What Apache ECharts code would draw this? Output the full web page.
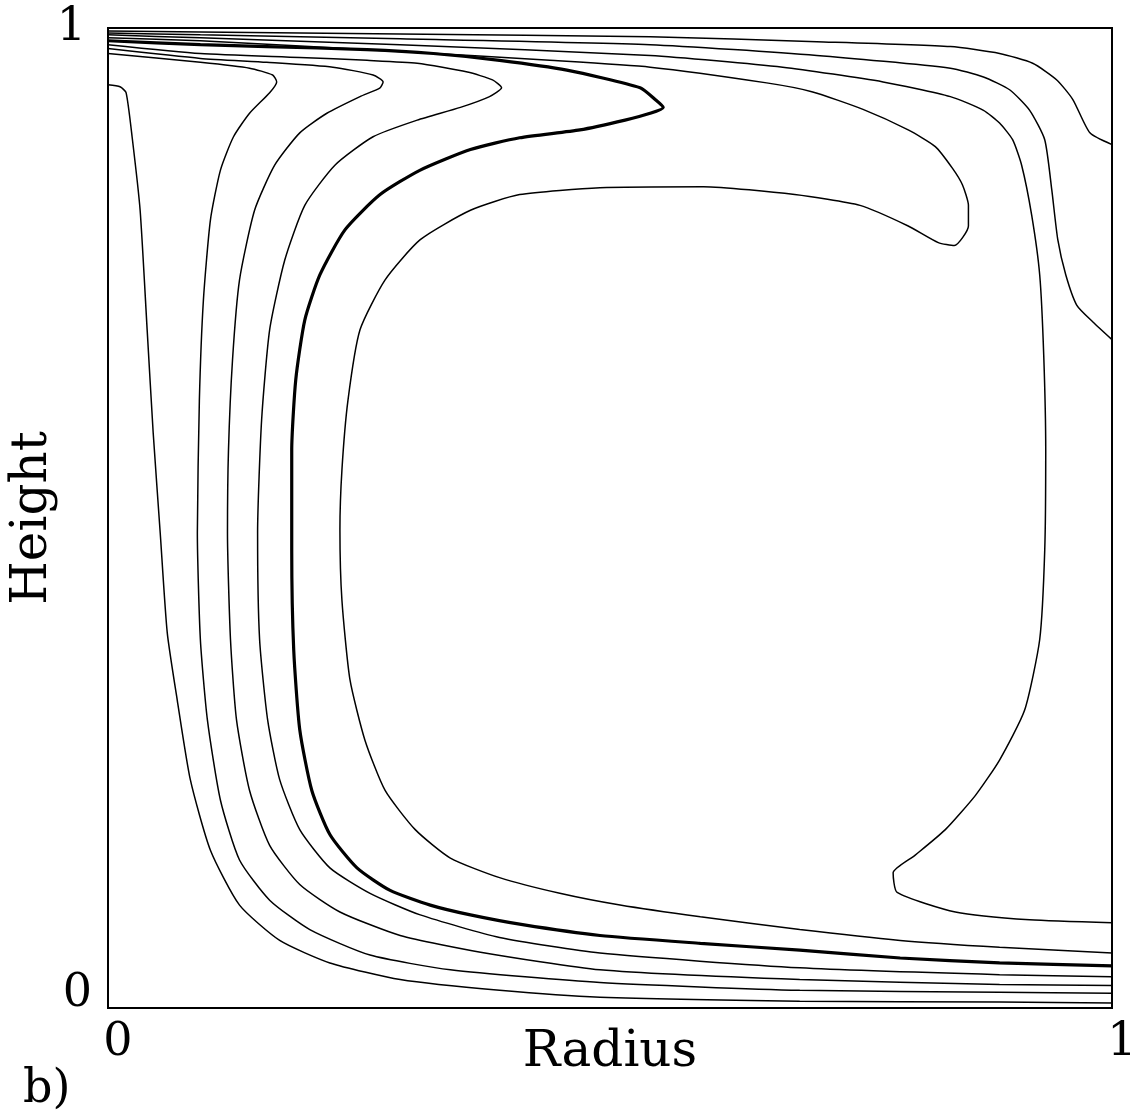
<!DOCTYPE html>
<html>
<head>
<meta charset="utf-8">
<script src="https://cdn.jsdelivr.net/npm/echarts@6/dist/echarts.min.js"></script>
<style>
  html, body { margin: 0; padding: 0; background: #fff; }
  #chart { width: 1136px; height: 1117px; }
</style>
</head>
<body>
<div id="chart"></div>
<script>
// contour lines, [radius, height]
const lineC0 = [[0,0.942],[0.012,0.940],[0.018,0.934],[0.024,0.889],[0.032,0.814],[0.039,0.692],[0.045,0.587],[0.052,0.485],[0.059,0.383],[0.069,0.314],[0.082,0.233],[0.102,0.161],[0.131,0.105],[0.171,0.069],[0.221,0.046],[0.291,0.029],[0.390,0.018],[0.490,0.011],[0.689,0.007],[0.888,0.006],[1,0.005]];
const lineC1 = [[0,0.974],[0.092,0.965],[0.141,0.959],[0.164,0.952],[0.168,0.945],[0.161,0.934],[0.141,0.913],[0.125,0.889],[0.112,0.855],[0.102,0.804],[0.095,0.722],[0.091,0.620],[0.089,0.485],[0.092,0.376],[0.099,0.294],[0.112,0.212],[0.131,0.151],[0.161,0.110],[0.201,0.080],[0.261,0.054],[0.341,0.039],[0.490,0.026],[0.689,0.018],[0.888,0.016],[1,0.015]];
const lineC2 = [[0,0.979],[0.092,0.969],[0.158,0.965],[0.224,0.960],[0.264,0.952],[0.274,0.945],[0.271,0.939],[0.251,0.930],[0.218,0.913],[0.191,0.893],[0.166,0.860],[0.146,0.814],[0.131,0.743],[0.124,0.661],[0.120,0.569],[0.119,0.485],[0.122,0.376],[0.128,0.294],[0.141,0.222],[0.161,0.166],[0.191,0.126],[0.231,0.098],[0.291,0.074],[0.371,0.057],[0.490,0.039],[0.689,0.029],[0.888,0.024],[1,0.023]];
const lineC3 = [[0,0.983],[0.092,0.974],[0.191,0.970],[0.258,0.967],[0.308,0.964],[0.358,0.955],[0.383,0.947],[0.392,0.939],[0.380,0.930],[0.351,0.919],[0.308,0.906],[0.264,0.889],[0.226,0.860],[0.196,0.819],[0.176,0.763],[0.161,0.692],[0.153,0.600],[0.149,0.485],[0.151,0.376],[0.159,0.294],[0.171,0.233],[0.191,0.182],[0.221,0.143],[0.261,0.117],[0.311,0.095],[0.390,0.072],[0.490,0.056],[0.689,0.041],[0.888,0.034],[1,0.032]];
const lineThick = [[0,0.987],[0.092,0.983],[0.158,0.981],[0.258,0.978],[0.324,0.974],[0.390,0.967],[0.457,0.957],[0.530,0.939],[0.545,0.927],[0.553,0.919],[0.540,0.913],[0.515,0.906],[0.470,0.896],[0.410,0.888],[0.361,0.876],[0.311,0.855],[0.271,0.830],[0.236,0.794],[0.211,0.748],[0.196,0.702],[0.187,0.641],[0.183,0.569],[0.183,0.467],[0.185,0.365],[0.191,0.284],[0.203,0.222],[0.221,0.177],[0.248,0.143],[0.281,0.120],[0.321,0.105],[0.361,0.095],[0.413,0.085],[0.490,0.074],[0.590,0.066],[0.689,0.059],[0.789,0.051],[0.888,0.046],[1,0.043]];
const lineInner = [[0,0.990],[0.092,0.987],[0.291,0.976],[0.440,0.967],[0.540,0.960],[0.656,0.944],[0.701,0.935],[0.752,0.917],[0.797,0.896],[0.824,0.879],[0.841,0.857],[0.851,0.840],[0.857,0.819],[0.857,0.798],[0.843,0.778],[0.827,0.781],[0.797,0.798],[0.749,0.819],[0.684,0.830],[0.593,0.838],[0.490,0.837],[0.410,0.830],[0.361,0.814],[0.311,0.784],[0.276,0.743],[0.251,0.692],[0.239,0.620],[0.233,0.549],[0.231,0.488],[0.233,0.416],[0.241,0.335],[0.256,0.273],[0.276,0.222],[0.306,0.182],[0.341,0.153],[0.390,0.133],[0.450,0.117],[0.510,0.105],[0.590,0.093],[0.689,0.080],[0.789,0.069],[0.888,0.062],[1,0.056]];
const lineR1 = [[0,0.997],[0.092,0.996],[0.291,0.994],[0.540,0.991],[0.706,0.986],[0.839,0.981],[0.888,0.974],[0.921,0.964],[0.945,0.947],[0.961,0.927],[0.978,0.893],[1,0.881]];
const lineR2 = [[0,0.995],[0.092,0.993],[0.291,0.989],[0.540,0.983],[0.706,0.972],[0.839,0.959],[0.872,0.950],[0.898,0.937],[0.918,0.916],[0.933,0.886],[0.940,0.835],[0.946,0.784],[0.954,0.748],[0.965,0.717],[0.981,0.700],[1,0.682]];
const lineR3 = [[0,0.993],[0.092,0.990],[0.291,0.983],[0.540,0.972],[0.672,0.960],[0.772,0.945],[0.839,0.930],[0.872,0.916],[0.888,0.903],[0.901,0.886],[0.910,0.860],[0.920,0.809],[0.928,0.748],[0.932,0.666],[0.934,0.569],[0.933,0.467],[0.928,0.376],[0.913,0.304],[0.888,0.253],[0.864,0.217],[0.834,0.182],[0.804,0.156],[0.782,0.138],[0.786,0.118],[0.844,0.098],[0.918,0.090],[1,0.087]];

const xTicks = [0, 1];
const yTicks = [0, 1];

const thinLines = [lineC0, lineC1, lineC2, lineC3, lineInner, lineR1, lineR2, lineR3];

const font = 'DejaVu Serif';
const chart = echarts.init(document.getElementById('chart'));

const series = thinLines.map(function (d) {
    return {
        type: 'line',
        data: d,
        showSymbol: false,
        smooth: 0.2,
        lineStyle: { color: '#000', width: 1.5 },
        silent: true
    };
});
series.push({
    type: 'line',
    data: lineThick,
    showSymbol: false,
    smooth: 0.2,
    lineStyle: { color: '#000', width: 3.2 },
    silent: true
});

const option = {
    animation: false,
    backgroundColor: '#fff',
    title: {
        text: 'b)',
        left: 18,
        top: 1062,
        textStyle: { fontFamily: font, fontSize: 46, fontWeight: 'normal', color: '#000' }
    },
    grid: {
        left: 108,
        top: 28,
        width: 1004,
        height: 980,
        containLabel: false,
        outerBoundsMode: 'none',
        show: true,
        borderColor: '#000',
        borderWidth: 2
    },
    xAxis: {
        type: 'value',
        min: xTicks[0],
        max: xTicks[1],
        interval: 1,
        name: 'Radius',
        nameLocation: 'middle',
        nameGap: 20,
        nameMoveOverlap: false,
        nameTextStyle: { fontFamily: font, fontSize: 50, color: '#000', verticalAlign: 'top' },
        axisLine: { lineStyle: { color: '#000', width: 2 } },
        axisTick: { show: false },
        splitLine: { show: false },
        axisLabel: { fontFamily: font, fontSize: 46, color: '#000', margin: 12, padding: [0, 0, 0, 20] }
    },
    yAxis: {
        type: 'value',
        min: yTicks[0],
        max: yTicks[1],
        interval: 1,
        name: 'Height',
        nameLocation: 'middle',
        nameGap: 50,
        nameMoveOverlap: false,
        nameTextStyle: { fontFamily: font, fontSize: 50, color: '#000' },
        axisLine: { lineStyle: { color: '#000', width: 2 } },
        axisTick: { show: false },
        splitLine: { show: false },
        axisLabel: {
            fontFamily: font, fontSize: 46, color: '#000', margin: 16,
            formatter: function (v) { return v === 0 ? '{lo|0}' : '{hi|1}'; },
            rich: {
                lo: { fontFamily: font, fontSize: 46, color: '#000', padding: [0, 0, 28, 0] },
                hi: { fontFamily: font, fontSize: 46, color: '#000', padding: [0, 6, 0, 0] }
            }
        }
    },
    series: series
};
chart.setOption(option);
</script>
</body>
</html>
